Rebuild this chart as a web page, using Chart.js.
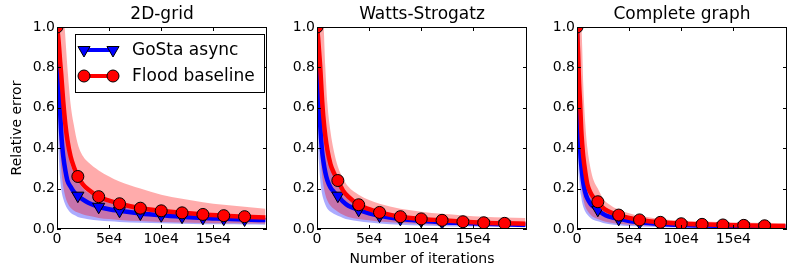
<!DOCTYPE html>
<html>
<head>
<meta charset="utf-8">
<script src="https://cdn.jsdelivr.net/npm/chart.js@4.4.0/dist/chart.umd.min.js"></script>
<style>
  html, body { margin: 0; padding: 0; background: #fff; overflow: hidden; width: 788px; height: 269px; }
  .panel { position: absolute; top: 0; height: 269px; }
</style>
</head>
<body>
<div class="panel" style="left:0px;width:275px"><canvas id="grid"></canvas></div>
<div class="panel" style="left:262px;width:273px"><canvas id="ws"></canvas></div>
<div class="panel" style="left:522px;width:273px"><canvas id="complete"></canvas></div>
<script>
const iterations = [0, 1000, 2000, 3000, 4000, 5000, 6000, 8000, 10000, 13000, 16000, 20000,
  25000, 30000, 40000, 50000, 60000, 80000, 100000, 120000, 140000, 160000, 180000, 200000];
const markerIterations = [0, 20000, 40000, 60000, 80000, 100000, 120000, 140000, 160000, 180000];
const xTicks = [0, 50000, 100000, 150000];
const xTickLabels = ["0", "5e4", "10e4", "15e4"];
const yTicks = [0, 0.2, 0.4, 0.6, 0.8, 1.0];

// 2D-grid
const gridGosta     = [1.0, 0.83, 0.69, 0.58, 0.48, 0.41, 0.36, 0.29, 0.24, 0.21, 0.185, 0.165, 0.145, 0.13, 0.11, 0.098, 0.09, 0.077, 0.068, 0.061, 0.055, 0.051, 0.047, 0.044];
const gridGostaHigh = [1.2, 1.1, 1.0, 0.9, 0.78, 0.68, 0.6, 0.48, 0.4, 0.32, 0.28, 0.24, 0.2, 0.18, 0.15, 0.13, 0.115, 0.095, 0.083, 0.074, 0.067, 0.062, 0.058, 0.055];
const gridGostaLow  = [1.0, 0.5, 0.33, 0.25, 0.2, 0.17, 0.15, 0.12, 0.1, 0.08, 0.07, 0.06, 0.053, 0.048, 0.042, 0.038, 0.035, 0.031, 0.028, 0.026, 0.024, 0.023, 0.022, 0.021];
const gridFlood     = [1.0, 0.96, 0.9, 0.83, 0.77, 0.7, 0.63, 0.52, 0.44, 0.36, 0.31, 0.26, 0.22, 0.195, 0.16, 0.14, 0.125, 0.103, 0.09, 0.08, 0.072, 0.066, 0.061, 0.057];
const gridFloodHigh = [1.3, 1.28, 1.25, 1.22, 1.18, 1.14, 1.1, 0.95, 0.8, 0.62, 0.52, 0.42, 0.36, 0.33, 0.29, 0.26, 0.235, 0.2, 0.17, 0.15, 0.133, 0.12, 0.11, 0.1];
const gridFloodLow  = [1.0, 0.7, 0.5, 0.38, 0.3, 0.25, 0.21, 0.16, 0.13, 0.105, 0.092, 0.082, 0.072, 0.065, 0.055, 0.049, 0.045, 0.039, 0.035, 0.032, 0.03, 0.028, 0.027, 0.026];

// Watts-Strogatz
const wsGosta     = [1.0, 0.8, 0.63, 0.52, 0.44, 0.38, 0.34, 0.28, 0.24, 0.205, 0.185, 0.165, 0.135, 0.115, 0.095, 0.078, 0.066, 0.05, 0.041, 0.034, 0.03, 0.026, 0.023, 0.021];
const wsGostaHigh = [1.2, 1.0, 0.88, 0.78, 0.68, 0.6, 0.53, 0.43, 0.37, 0.3, 0.26, 0.22, 0.18, 0.15, 0.115, 0.095, 0.08, 0.062, 0.05, 0.043, 0.037, 0.033, 0.03, 0.028];
const wsGostaLow  = [1.0, 0.45, 0.32, 0.25, 0.2, 0.17, 0.15, 0.12, 0.1, 0.085, 0.075, 0.065, 0.055, 0.047, 0.038, 0.032, 0.027, 0.021, 0.017, 0.014, 0.012, 0.011, 0.01, 0.009];
const wsFlood     = [1.0, 0.95, 0.88, 0.81, 0.72, 0.63, 0.56, 0.46, 0.39, 0.32, 0.28, 0.24, 0.19, 0.16, 0.12, 0.098, 0.082, 0.061, 0.05, 0.043, 0.036, 0.031, 0.028, 0.026];
const wsFloodHigh = [1.3, 1.27, 1.23, 1.18, 1.14, 1.1, 1.05, 0.8, 0.62, 0.48, 0.39, 0.31, 0.25, 0.21, 0.17, 0.143, 0.125, 0.1, 0.086, 0.075, 0.067, 0.061, 0.057, 0.054];
const wsFloodLow  = [1.0, 0.65, 0.48, 0.38, 0.31, 0.26, 0.22, 0.17, 0.14, 0.115, 0.1, 0.085, 0.07, 0.06, 0.05, 0.043, 0.037, 0.03, 0.025, 0.021, 0.019, 0.017, 0.015, 0.014];

// Complete graph
const cgGosta     = [1.0, 0.65, 0.48, 0.39, 0.32, 0.27, 0.23, 0.18, 0.15, 0.125, 0.11, 0.095, 0.075, 0.063, 0.05, 0.04, 0.033, 0.025, 0.02, 0.017, 0.015, 0.013, 0.012, 0.011];
const cgGostaHigh = [1.2, 1.0, 0.8, 0.65, 0.53, 0.45, 0.38, 0.29, 0.23, 0.18, 0.15, 0.13, 0.1, 0.083, 0.064, 0.052, 0.043, 0.032, 0.026, 0.022, 0.02, 0.018, 0.016, 0.015];
const cgGostaLow  = [1.0, 0.35, 0.25, 0.19, 0.16, 0.13, 0.11, 0.085, 0.07, 0.055, 0.045, 0.038, 0.03, 0.025, 0.019, 0.015, 0.012, 0.009, 0.007, 0.006, 0.005, 0.005, 0.004, 0.004];
const cgFlood     = [1.0, 0.88, 0.72, 0.62, 0.5, 0.42, 0.36, 0.28, 0.22, 0.18, 0.155, 0.135, 0.105, 0.088, 0.069, 0.055, 0.045, 0.033, 0.026, 0.023, 0.02, 0.018, 0.016, 0.015];
const cgFloodHigh = [1.3, 1.25, 1.2, 1.12, 1.05, 0.9, 0.72, 0.52, 0.4, 0.3, 0.24, 0.2, 0.15, 0.125, 0.095, 0.078, 0.065, 0.05, 0.042, 0.037, 0.034, 0.032, 0.03, 0.029];
const cgFloodLow  = [1.0, 0.5, 0.36, 0.28, 0.22, 0.18, 0.15, 0.11, 0.09, 0.07, 0.058, 0.05, 0.04, 0.034, 0.026, 0.021, 0.018, 0.013, 0.011, 0.009, 0.008, 0.007, 0.007, 0.006];

const FONT = "'DejaVu Sans', sans-serif";
Chart.defaults.font.family = FONT;
Chart.defaults.color = "#000";

const toXY = (values) => values.map((v, i) => ({ x: iterations[i], y: v }));
const markerRadius = (r) => (c) => (c.raw && markerIterations.includes(c.raw.x) ? r : 0);

// inward ticks on all four sides + black frame, like matplotlib classic
const framePlugin = {
  id: "frame",
  afterDatasetsDraw(chart) {
    const { ctx, chartArea: a, scales } = chart;
    ctx.save();
    ctx.strokeStyle = "#000";
    ctx.lineWidth = 1;
    ctx.beginPath();
    xTicks.forEach(function (v) {
      const px = Math.round(scales.x.getPixelForValue(v)) + 0.5;
      ctx.moveTo(px, a.bottom); ctx.lineTo(px, a.bottom - 4);
      ctx.moveTo(px, a.top); ctx.lineTo(px, a.top + 4);
    });
    yTicks.forEach(function (v) {
      const py = Math.round(scales.y.getPixelForValue(v)) + 0.5;
      ctx.moveTo(a.left, py); ctx.lineTo(a.left + 4, py);
      ctx.moveTo(a.right, py); ctx.lineTo(a.right - 4, py);
    });
    ctx.stroke();
    ctx.strokeRect(Math.round(a.left) + 0.5, Math.round(a.top) + 0.5,
      Math.round(a.right - a.left) - 1, Math.round(a.bottom - a.top) - 1);
    ctx.restore();
  }
};

// panel title centred over the plot area, not over the canvas
const panelTitlePlugin = {
  id: "panelTitle",
  afterDraw(chart, args, opts) {
    const { ctx, chartArea: a } = chart;
    ctx.save();
    ctx.fillStyle = "#000";
    ctx.font = "17px " + FONT;
    ctx.textAlign = "center";
    ctx.textBaseline = "middle";
    ctx.fillText(opts.text, (a.left + a.right) / 2, 15);
    ctx.restore();
  }
};

function drawCircle(ctx, x, y) {
  ctx.beginPath();
  ctx.arc(x, y, 6, 0, Math.PI * 2);
  ctx.fillStyle = "#ff0000";
  ctx.fill();
  ctx.stroke();
}

function drawTriangle(ctx, x, y) {
  const r = 7;
  ctx.beginPath();
  ctx.moveTo(x - r * 0.866, y - r * 0.5);
  ctx.lineTo(x + r * 0.866, y - r * 0.5);
  ctx.lineTo(x, y + r);
  ctx.closePath();
  ctx.fillStyle = "#0000ff";
  ctx.fill();
  ctx.stroke();
}

const legendPlugin = {
  id: "boxLegend",
  afterDraw(chart) {
    const ctx = chart.ctx;
    ctx.save();
    ctx.fillStyle = "#fff";
    ctx.fillRect(75.5, 34.5, 189, 58);
    ctx.strokeStyle = "#000";
    ctx.lineWidth = 1;
    ctx.strokeRect(75.5, 34.5, 189, 58);

    const rows = [
      { y: 50, color: "#0000ff", label: "GoSta async", marker: drawTriangle },
      { y: 76, color: "#ff0000", label: "Flood baseline", marker: drawCircle },
    ];
    rows.forEach(function (row) {
      ctx.strokeStyle = row.color;
      ctx.lineWidth = 4;
      ctx.beginPath();
      ctx.moveTo(84, row.y);
      ctx.lineTo(113, row.y);
      ctx.stroke();
      ctx.strokeStyle = "#000";
      ctx.lineWidth = 1;
      row.marker(ctx, 84, row.y);
      row.marker(ctx, 113, row.y);
      ctx.fillStyle = "#000";
      ctx.font = "17px " + FONT;
      ctx.textBaseline = "middle";
      ctx.fillText(row.label, 132, row.y + 1);
    });
    ctx.restore();
  }
};

function makePanel(id, title, s, opts) {
  const datasets = [
    {
      label: "Flood baseline",
      data: toXY(s.flood),
      borderColor: "#ff0000",
      borderWidth: 4.5,
      pointStyle: "circle",
      pointRadius: markerRadius(6),
      pointBackgroundColor: "#ff0000",
      pointBorderColor: "#000",
      pointBorderWidth: 1,
      cubicInterpolationMode: "monotone",
      fill: false,
    },
    {
      label: "GoSta async",
      data: toXY(s.gosta),
      borderColor: "#0000ff",
      borderWidth: 4.5,
      pointStyle: "triangle",
      pointRotation: 180,
      pointRadius: markerRadius(7),
      pointBackgroundColor: "#0000ff",
      pointBorderColor: "#000",
      pointBorderWidth: 1,
      cubicInterpolationMode: "monotone",
      fill: false,
    },
    {
      data: toXY(s.floodHigh),
      borderWidth: 0,
      pointRadius: 0,
      cubicInterpolationMode: "monotone",
      backgroundColor: "rgba(255,0,0,0.33)",
      fill: "+1",
    },
    {
      data: toXY(s.floodLow),
      borderWidth: 0,
      pointRadius: 0,
      cubicInterpolationMode: "monotone",
      fill: false,
    },
    {
      data: toXY(s.gostaHigh),
      borderWidth: 0,
      pointRadius: 0,
      cubicInterpolationMode: "monotone",
      backgroundColor: "rgba(0,0,255,0.33)",
      fill: "+1",
    },
    {
      data: toXY(s.gostaLow),
      borderWidth: 0,
      pointRadius: 0,
      cubicInterpolationMode: "monotone",
      fill: false,
    },
  ];

  const plugins = [framePlugin, panelTitlePlugin];
  if (opts.legend) plugins.push(legendPlugin);

  return new Chart(document.getElementById(id), {
    type: "line",
    data: { datasets: datasets },
    plugins: plugins,
    options: {
      responsive: true,
      maintainAspectRatio: false,
      animation: false,
      layout: { padding: { top: 27, right: 3 } },
      plugins: {
        legend: { display: false },
        tooltip: { enabled: false },
        title: { display: false },
        panelTitle: { text: title },
      },
      scales: {
        x: {
          type: "linear",
          min: 0,
          max: 201500,
          grid: { display: false, drawTicks: false },
          border: { display: false },
          afterBuildTicks: (axis) => { axis.ticks = xTicks.map((v) => ({ value: v })); },
          afterFit: (axis) => { axis.height = 40; },
          ticks: {
            font: { size: 14 },
            color: "#000",
            padding: 2,
            maxRotation: 0,
            autoSkip: false,
            callback: (v) => xTickLabels[xTicks.indexOf(v)],
          },
          title: {
            display: !!opts.xTitle,
            text: opts.xTitle || "",
            font: { size: 14 },
            color: "#000",
            padding: { top: 0, bottom: 1.5 },
          },
        },
        y: {
          min: 0,
          max: 1,
          grid: { display: false, drawTicks: false },
          border: { display: false },
          afterBuildTicks: (axis) => { axis.ticks = yTicks.map((v) => ({ value: v })); },
          afterFit: (axis) => { axis.width = opts.yWidth; },
          ticks: {
            font: { size: 14 },
            color: "#000",
            padding: 2,
            callback: (v) => v.toFixed(1),
          },
          title: {
            display: !!opts.yTitle,
            text: opts.yTitle || "",
            font: { size: 14 },
            color: "#000",
            padding: { top: 8.6, bottom: 0 },
          },
        },
      },
    },
  });
}

makePanel("grid", "2D-grid",
  { gosta: gridGosta, gostaHigh: gridGostaHigh, gostaLow: gridGostaLow,
    flood: gridFlood, floodHigh: gridFloodHigh, floodLow: gridFloodLow },
  { yWidth: 57, yTitle: "Relative error", legend: true });

makePanel("ws", "Watts-Strogatz",
  { gosta: wsGosta, gostaHigh: wsGostaHigh, gostaLow: wsGostaLow,
    flood: wsFlood, floodHigh: wsFloodHigh, floodLow: wsFloodLow },
  { yWidth: 55, xTitle: "Number of iterations" });

makePanel("complete", "Complete graph",
  { gosta: cgGosta, gostaHigh: cgGostaHigh, gostaLow: cgGostaLow,
    flood: cgFlood, floodHigh: cgFloodHigh, floodLow: cgFloodLow },
  { yWidth: 55 });
</script>
</body>
</html>
